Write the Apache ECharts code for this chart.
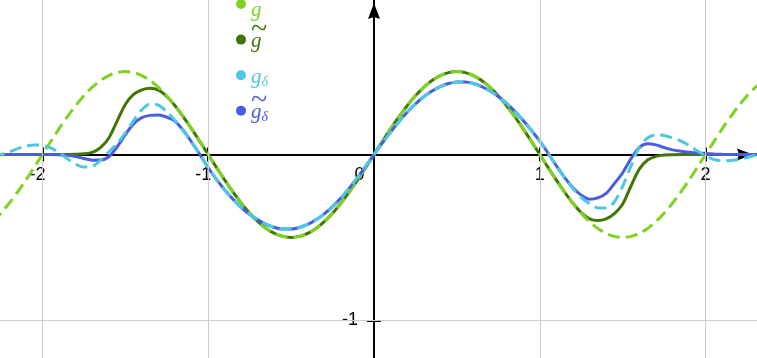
<!DOCTYPE html>
<html>
<head>
<meta charset="utf-8">
<script src="https://cdn.jsdelivr.net/npm/echarts@6/dist/echarts.min.js"></script>
<style>
  html, body { margin: 0; padding: 0; background: #ffffff; }
  #chart { width: 757px; height: 358px; }
</style>
</head>
<body>
<div id="chart"></div>
<script>
// Sample positions shared by every curve
const xs = [
  -2.30, -2.25, -2.20, -2.15, -2.10, -2.05, -2.00, -1.95, -1.90, -1.85,
  -1.80, -1.75, -1.70, -1.65, -1.60, -1.55, -1.50, -1.45, -1.40, -1.35,
  -1.30, -1.25, -1.20, -1.15, -1.10, -1.05, -1.00, -0.95, -0.90, -0.85,
  -0.80, -0.75, -0.70, -0.65, -0.60, -0.55, -0.50, -0.45, -0.40, -0.35,
  -0.30, -0.25, -0.20, -0.15, -0.10, -0.05, 0.00, 0.05, 0.10, 0.15,
  0.20, 0.25, 0.30, 0.35, 0.40, 0.45, 0.50, 0.55, 0.60, 0.65,
  0.70, 0.75, 0.80, 0.85, 0.90, 0.95, 1.00, 1.05, 1.10, 1.15,
  1.20, 1.25, 1.30, 1.35, 1.40, 1.45, 1.50, 1.55, 1.60, 1.65,
  1.70, 1.75, 1.80, 1.85, 1.90, 1.95, 2.00, 2.05, 2.10, 2.15,
  2.20, 2.25, 2.30, 2.35
];

// g : dashed light green
const gVals = [
  -0.405, -0.354, -0.294, -0.227, -0.155, -0.078, 0.000, 0.078, 0.155, 0.227,
  0.294, 0.354, 0.405, 0.446, 0.476, 0.494, 0.500, 0.494, 0.476, 0.446,
  0.405, 0.354, 0.294, 0.227, 0.155, 0.078, 0.000, -0.078, -0.155, -0.227,
  -0.294, -0.354, -0.405, -0.446, -0.476, -0.494, -0.500, -0.494, -0.476, -0.446,
  -0.405, -0.354, -0.294, -0.227, -0.155, -0.078, 0.000, 0.078, 0.155, 0.227,
  0.294, 0.354, 0.405, 0.446, 0.476, 0.494, 0.500, 0.494, 0.476, 0.446,
  0.405, 0.354, 0.294, 0.227, 0.155, 0.078, 0.000, -0.078, -0.155, -0.227,
  -0.294, -0.354, -0.405, -0.446, -0.476, -0.494, -0.500, -0.494, -0.476, -0.446,
  -0.405, -0.354, -0.294, -0.227, -0.155, -0.078, 0.000, 0.078, 0.155, 0.227,
  0.294, 0.354, 0.405, 0.446
];

// g-tilde : solid dark green
const gTildeVals = [
  0.000, 0.000, 0.000, 0.000, 0.000, 0.000, 0.000, 0.000, 0.000, 0.000,
  0.001, 0.004, 0.013, 0.042, 0.098, 0.200, 0.302, 0.362, 0.390, 0.399,
  0.388, 0.350, 0.294, 0.227, 0.155, 0.078, 0.000, -0.078, -0.155, -0.227,
  -0.294, -0.354, -0.405, -0.446, -0.476, -0.494, -0.500, -0.494, -0.476, -0.446,
  -0.405, -0.354, -0.294, -0.227, -0.155, -0.078, 0.000, 0.078, 0.155, 0.227,
  0.294, 0.354, 0.405, 0.446, 0.476, 0.494, 0.500, 0.494, 0.476, 0.446,
  0.405, 0.354, 0.294, 0.227, 0.155, 0.078, 0.000, -0.078, -0.155, -0.227,
  -0.294, -0.350, -0.388, -0.398, -0.388, -0.356, -0.298, -0.190, -0.088, -0.033,
  -0.011, -0.003, -0.001, 0.000, 0.000, 0.000, 0.000, 0.000, 0.000, 0.000,
  0.000, 0.000, 0.000, 0.000
];

// g-delta : dashed light blue
const gDeltaVals = [
  -0.008, 0.000, 0.015, 0.035, 0.050, 0.058, 0.055, 0.040, 0.012, -0.025,
  -0.058, -0.075, -0.072, -0.035, 0.015, 0.065, 0.130, 0.205, 0.270, 0.305,
  0.298, 0.258, 0.205, 0.145, 0.075, 0.000, -0.080, -0.150, -0.214, -0.270,
  -0.320, -0.362, -0.394, -0.422, -0.440, -0.450, -0.450, -0.440, -0.422, -0.394,
  -0.358, -0.314, -0.263, -0.204, -0.139, -0.070, 0.000, 0.068, 0.135, 0.198,
  0.255, 0.305, 0.348, 0.383, 0.410, 0.428, 0.437, 0.437, 0.428, 0.410,
  0.383, 0.350, 0.308, 0.260, 0.205, 0.145, 0.080, 0.008, -0.068, -0.140,
  -0.205, -0.258, -0.297, -0.322, -0.322, -0.285, -0.190, -0.070, 0.045, 0.100,
  0.118, 0.115, 0.100, 0.082, 0.055, 0.022, -0.008, -0.030, -0.038, -0.036,
  -0.030, -0.018, -0.005, 0.000
];

// g-tilde-delta : solid blue
const gTildeDeltaVals = [
  0.000, 0.000, 0.000, 0.000, 0.000, 0.000, 0.000, 0.000, -0.002, -0.005,
  -0.012, -0.024, -0.034, -0.033, -0.015, 0.045, 0.120, 0.185, 0.222, 0.236,
  0.238, 0.225, 0.200, 0.145, 0.075, 0.000, -0.080, -0.150, -0.214, -0.270,
  -0.320, -0.362, -0.394, -0.422, -0.440, -0.450, -0.450, -0.440, -0.422, -0.394,
  -0.358, -0.314, -0.263, -0.204, -0.139, -0.070, 0.000, 0.068, 0.135, 0.198,
  0.255, 0.305, 0.348, 0.383, 0.410, 0.428, 0.437, 0.437, 0.428, 0.410,
  0.383, 0.350, 0.308, 0.260, 0.205, 0.145, 0.080, 0.008, -0.068, -0.140,
  -0.200, -0.245, -0.270, -0.262, -0.235, -0.175, -0.110, -0.025, 0.042, 0.065,
  0.058, 0.042, 0.028, 0.020, 0.014, 0.009, 0.006, 0.003, 0.001, 0.000,
  0.000, 0.000, 0.000, 0.000
];

// Axis ticks, labels and grid lines
const xTickValues = [-2, -1, 1, 2];
const xLabelValues = [-2, -1, 0, 1, 2];
const yTickValues = [-1];
const xGridValues = [-2, -1, 1, 2];
const yGridValues = [-1];

// Visible window of the plane
const xMin = -2.2557, xMax = 2.3100;
const yMin = -1.2274, yMax = 0.9319;

const colors = {
  g: '#7ED321',
  gTilde: '#417505',
  gDelta: '#4EC7E4',
  gTildeDelta: '#4A5CE2'
};
const hidden = 'rgba(0,0,0,0)';

const arrowPath = 'path://M6,0L12,16L6,14L0,16Z';
const axisLineStyle = { color: '#000000', width: 2 };
const tickStyle = { color: '#000000', width: 2 };
const labelFont = 'Liberation Sans';
const mathFont = 'Liberation Serif';
const labelSize = 18;

function pairs(ys) {
  return xs.map((x, i) => [x, ys[i]]);
}

const chart = echarts.init(document.getElementById('chart'), null, { renderer: 'canvas' });
const W = chart.getWidth();
const H = chart.getHeight();

// The labelled axes sit at the grid edge and are shifted onto the origin lines
const xLabelAxisOffset = -H * (0 - yMin) / (yMax - yMin);
const yLabelAxisOffset = -W * (0 - xMin) / (xMax - xMin);

// Every legend entry carries the same tokens (accent, symbol, subscript) so all rows
// have identical boxes; the parts a symbol does not use are left transparent.
const legendText = {
  g: '{t1|~}\n{g1|g}{d1|δ}\n{e| }',
  gTilde: '{t2|~}\n{g2|g}{d2|δ}\n{e| }',
  gDelta: '{t3|~}\n{g3|g}{d3|δ}\n{e| }',
  gTildeDelta: '{t4|~}\n{g4|g}{d4|δ}\n{e| }'
};

function mathStyle(color, extra) {
  return Object.assign({
    fontFamily: mathFont, fontStyle: 'italic', fontSize: 21,
    lineHeight: 12, color: color
  }, extra || {});
}
function tildeStyle(color) {
  return { fontFamily: mathFont, fontSize: 30, lineHeight: 11, color: color };
}
function subStyle(color) {
  return {
    fontFamily: mathFont, fontStyle: 'italic', fontSize: 14, lineHeight: 12,
    height: 22, verticalAlign: 'top', color: color
  };
}

const option = {
  animation: false,
  backgroundColor: '#ffffff',
  grid: { left: 0, right: 0, top: 0, bottom: 0, containLabel: false, outerBoundsMode: 'none' },
  legend: {
    orient: 'vertical',
    left: 236,
    top: -20.5,
    padding: 0,
    itemWidth: 10,
    itemHeight: 10,
    itemGap: -6.9,
    icon: 'circle',
    selectedMode: false,
    itemStyle: { borderWidth: 0 },
    data: ['g', 'gTilde', 'gDelta', 'gTildeDelta'],
    formatter: name => legendText[name],
    textStyle: {
      fontFamily: mathFont,
      fontSize: 21,
      lineHeight: 12,
      rich: {
        e: { fontSize: 7, lineHeight: 7 },
        t1: tildeStyle(hidden),
        g1: mathStyle(colors.g, { height: 21, verticalAlign: 'top' }),
        d1: subStyle(hidden),
        t2: tildeStyle(colors.gTilde),
        g2: mathStyle(colors.gTilde),
        d2: subStyle(hidden),
        t3: tildeStyle(hidden),
        g3: mathStyle(colors.gDelta),
        d3: subStyle(colors.gDelta),
        t4: tildeStyle(colors.gTildeDelta),
        g4: mathStyle(colors.gTildeDelta),
        d4: subStyle(colors.gTildeDelta)
      }
    }
  },
  xAxis: [
    {
      // ticks below the x-axis and the tick labels
      type: 'value', min: xMin, max: xMax, position: 'bottom', z: 1,
      offset: xLabelAxisOffset,
      axisLine: { show: false, onZero: false },
      axisTick: { show: true, customValues: xTickValues, length: 7, lineStyle: tickStyle },
      axisLabel: {
        show: true, customValues: xLabelValues, margin: 12,
        color: '#000000', fontFamily: labelFont, fontSize: labelSize,
        formatter: v => (v === 0 ? '{z|0}' : (v < 0 ? '{n|' + v + '}' : '{p|' + v + '}')),
        rich: {
          z: { fontFamily: labelFont, fontSize: labelSize, color: '#000000', padding: [0, 29, 0, 0] },
          n: { fontFamily: labelFont, fontSize: labelSize, color: '#000000', padding: [0, 10, 0, 0] },
          p: { fontFamily: labelFont, fontSize: labelSize, color: '#000000' }
        }
      },
      splitLine: { show: false }
    },
    {
      // the x-axis line with its arrow and the upper half of the ticks
      type: 'value', min: xMin, max: xMax, position: 'top', z: 1,
      axisLine: {
        onZero: true, onZeroAxisIndex: 0, lineStyle: axisLineStyle,
        symbol: ['none', arrowPath], symbolSize: [12, 16], symbolOffset: [0, -12]
      },
      axisTick: { show: true, customValues: xTickValues, length: 7, lineStyle: tickStyle },
      axisLabel: { show: false },
      splitLine: { show: false }
    }
  ],
  yAxis: [
    {
      // ticks left of the y-axis and the tick label
      type: 'value', min: yMin, max: yMax, position: 'left', z: 1,
      offset: yLabelAxisOffset,
      axisLine: { show: false, onZero: false },
      axisTick: { show: true, customValues: yTickValues, length: 7, lineStyle: tickStyle },
      axisLabel: {
        show: true, customValues: yTickValues, margin: 16,
        color: '#000000', fontFamily: labelFont, fontSize: labelSize,
        formatter: v => '{p|' + v + '}',
        rich: { p: { fontFamily: labelFont, fontSize: labelSize, color: '#000000' } }
      },
      splitLine: { show: false }
    },
    {
      // the y-axis line with its arrow and the right half of the ticks
      type: 'value', min: yMin, max: yMax, position: 'right', z: 1,
      axisLine: {
        onZero: true, onZeroAxisIndex: 0, lineStyle: axisLineStyle,
        symbol: ['none', arrowPath], symbolSize: [12, 16], symbolOffset: [0, -11]
      },
      axisTick: { show: true, customValues: yTickValues, length: 7, lineStyle: tickStyle },
      axisLabel: { show: false },
      splitLine: { show: false }
    }
  ],
  series: [
    {
      name: 'grid', type: 'line', data: [], z: 0, silent: true,
      markLine: {
        silent: true, animation: false,
        symbol: ['none', 'none'],
        label: { show: false },
        lineStyle: { color: '#cccccc', width: 1, type: 'solid' },
        emphasis: { disabled: true },
        data: xGridValues.map(v => ({ xAxis: v })).concat(yGridValues.map(v => ({ yAxis: v })))
      }
    },
    {
      name: 'gTilde', type: 'line', data: pairs(gTildeVals), z: 2,
      showSymbol: false, smooth: 0.3, silent: true,
      itemStyle: { color: colors.gTilde },
      lineStyle: { color: colors.gTilde, width: 3 }
    },
    {
      name: 'g', type: 'line', data: pairs(gVals), z: 2,
      showSymbol: false, smooth: 0.3, silent: true,
      itemStyle: { color: colors.g },
      lineStyle: { color: colors.g, width: 3, type: [12, 6] }
    },
    {
      name: 'gTildeDelta', type: 'line', data: pairs(gTildeDeltaVals), z: 2,
      showSymbol: false, smooth: 0.3, silent: true,
      itemStyle: { color: colors.gTildeDelta },
      lineStyle: { color: colors.gTildeDelta, width: 3 }
    },
    {
      name: 'gDelta', type: 'line', data: pairs(gDeltaVals), z: 2,
      showSymbol: false, smooth: 0.3, silent: true,
      itemStyle: { color: colors.gDelta },
      lineStyle: { color: colors.gDelta, width: 3, type: [12, 6] }
    }
  ]
};

chart.setOption(option);
</script>
</body>
</html>
